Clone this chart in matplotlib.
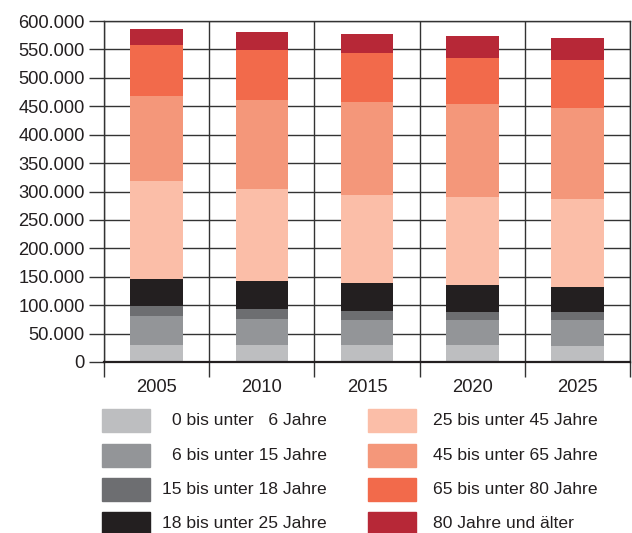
import matplotlib
matplotlib.use("Agg")
import matplotlib.pyplot as plt
from matplotlib.patches import Rectangle
from matplotlib.ticker import FuncFormatter, MultipleLocator, FixedLocator
import numpy as np

plt.rcParams['font.family'] = ['Liberation Sans', 'DejaVu Sans']

years = ["2005", "2010", "2015", "2020", "2025"]
labels = ["0 bis unter   6 Jahre", "6 bis unter 15 Jahre", "15 bis unter 18 Jahre",
          "18 bis unter 25 Jahre", "25 bis unter 45 Jahre", "45 bis unter 65 Jahre",
          "65 bis unter 80 Jahre", "80 Jahre und älter"]
colors = ["#BDBEC0", "#939598", "#6D6E71", "#231F20",
          "#FBBEA8", "#F4977A", "#F26A4B", "#B72837"]

age_0_6   = [29900, 29900, 29400, 29400, 27600]
age_6_15  = [50500, 45200, 44000, 44000, 45800]
age_15_18 = [17600, 17700, 15800, 14100, 14100]
age_18_25 = [47600, 49900, 49300, 47500, 44000]
age_25_45 = [172600, 161400, 155000, 155000, 155000]
age_45_65 = [149700, 156800, 163800, 163800, 160300]
age_65_80 = [89800, 88000, 86300, 81000, 84500]
age_80p   = [28200, 31700, 33500, 38800, 38700]
series = [age_0_6, age_6_15, age_15_18, age_18_25, age_25_45, age_45_65, age_65_80, age_80p]

W, H = 632, 533
fig = plt.figure(figsize=(W / 100, H / 100), dpi=100)
ax = fig.add_axes([104 / W, 1 - 362 / H, (630 - 104) / W, (362 - 21) / H])

x = np.arange(len(years))
bottom = np.zeros(len(years))
for vals, c, lab in zip(series, colors, labels):
    ax.bar(x, vals, width=0.5, bottom=bottom, color=c, label=lab, zorder=3)
    bottom += np.array(vals)

ax.set_xlim(-0.5, len(years) - 0.5)
ax.set_ylim(0, 600000)
ax.yaxis.set_major_locator(MultipleLocator(50000))
ax.yaxis.set_major_formatter(FuncFormatter(lambda v, p: "0" if v == 0 else f"{int(v):,}".replace(",", ".")))
ax.set_xticks(x)
ax.set_xticklabels(years)
ax.xaxis.set_minor_locator(FixedLocator(np.arange(-0.5, len(years), 1.0)))

ax.grid(axis='y', which='major', color='#333333', lw=1.0, zorder=1)
ax.grid(axis='x', which='minor', color='#333333', lw=1.0, zorder=1)

ax.tick_params(axis='y', length=11, width=1.0, color='#333333', labelsize=13.2,
               labelcolor='#231F20', pad=3)
ax.tick_params(axis='x', which='major', length=0, labelsize=13.2, labelcolor='#231F20', pad=12)
ax.tick_params(axis='x', which='minor', length=11, width=1.0, color='#333333')

for s in ['top', 'right', 'left']:
    ax.spines[s].set_color('#333333')
    ax.spines[s].set_linewidth(1.0)
ax.spines['bottom'].set_color('#231F20')
ax.spines['bottom'].set_linewidth(1.6)
ax.spines['bottom'].set_zorder(4)

# Legend (manual two-column layout)
row_y = [420.5, 455.5, 489.5, 523.5]
for i, (lab, c) in enumerate(zip(labels, colors)):
    col, row = divmod(i, 4)
    yc = row_y[row]
    px0 = 102 if col == 0 else 368
    fig.patches.append(Rectangle((px0 / W, 1 - (yc + 11.5) / H), 48 / W, 23 / H,
                                 transform=fig.transFigure, color=c))
    if col == 0:
        fig.text(327 / W, 1 - yc / H, lab, ha='right', va='center', fontsize=12.6, color='#231F20')
    else:
        fig.text(433 / W, 1 - yc / H, lab, ha='left', va='center', fontsize=12.6, color='#231F20')

fig.savefig("out.png", dpi=100)
